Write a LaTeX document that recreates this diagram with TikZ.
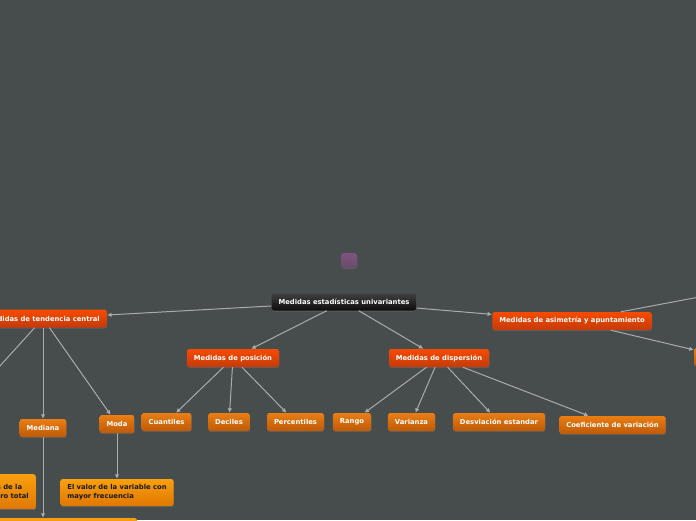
\documentclass[tikz,border=0pt]{standalone}
\usepackage{fontspec}
\setmainfont{DejaVu Sans}
\usetikzlibrary{arrows.meta}
\usetikzlibrary{shadows}

\definecolor{slatebg}{HTML}{474C4D}
\definecolor{linkgray}{HTML}{A9ACAD}
\definecolor{redtop}{HTML}{F64B00}
\definecolor{redbot}{HTML}{C43A0A}
\definecolor{orangetop}{HTML}{EA7E12}
\definecolor{orangebot}{HTML}{BE5A08}
\definecolor{ambertop}{HTML}{F9A00E}
\definecolor{amberbot}{HTML}{DF7800}

\begin{document}
\begin{tikzpicture}[
        x=1pt, y=-1pt,
        >={Latex[length=4.5pt,width=4.5pt]},
        every node/.style={font=\fontsize{6.8}{9}\selectfont\bfseries},
        box/.style={rounded corners=2.5pt, minimum height=18pt, inner xsep=7pt,
            drop shadow={shadow xshift=0.4pt, shadow yshift=-1pt, opacity=0.35}},
        rootbox/.style={box, top color=black!75, bottom color=black!95, text=white,
            minimum height=17pt},
        branch/.style={box, top color=redtop, bottom color=redbot, text=white},
        topic/.style={box, top color=orangetop, bottom color=orangebot, text=white},
        leaf/.style={box, top color=ambertop, bottom color=amberbot, text=black!90,
            align=left, inner xsep=7pt, minimum height=27pt},
        link/.style={draw=linkgray, line width=1pt, ->}
    ]

    \fill[slatebg] (0,0) rectangle (696,520);
    \useasboundingbox (0,0) rectangle (696,520);
    \clip (0,0) rectangle (696,520);

    % centre
    \node[rootbox] (root) at (344,302) {Medidas estadísticas univariantes};
    \node[box, top color=violet!35!gray, bottom color=violet!30!black!70,
        minimum width=16pt, minimum height=15pt, inner sep=0pt,
        rounded corners=3pt] (tag) at (349,260.5) {};

    % branches
    \node[branch] (tendencia) at (43,318.5) {Medidas de tendencia central};
    \node[branch] (posicion) at (233,358) {Medidas de posición};
    \node[branch] (dispersion) at (439,358) {Medidas de dispersión};
    \node[branch] (asimetria) at (572,321) {Medidas de asimetría y apuntamiento};

    % topics
    \node[topic] (mediana) at (43,428) {Mediana};
    \node[topic] (moda) at (117,424) {Moda};
    \node[topic] (cuantiles) at (166.5,422) {Cuantiles};
    \node[topic] (deciles) at (229,422) {Deciles};
    \node[topic] (percentiles) at (295.5,422) {Percentiles};
    \node[topic] (rango) at (352,422) {Rango};
    \node[topic] (varianza) at (411.5,422) {Varianza};
    \node[topic] (desviacion) at (499,422) {Desviación estandar};
    \node[topic] (coeficiente) at (612.5,425) {Coeficiente de variación};
    \node[topic, minimum width=60pt] (sesgo) at (724,357) {};

    % leaves
    \node[leaf, anchor=north east, minimum height=35pt] (mediadef) at (36,474)
        {Suma de todos los valores de la\\serie dividida por el número total};
    \node[leaf] (modadef) at (117,492.5)
        {El valor de la variable con\\mayor frecuencia};
    \node[leaf, minimum width=188pt, minimum height=30pt] (medianadef) at (43,533) {};

    % off-page ends
    \coordinate (media) at (-40,410);
    \coordinate (curtosis) at (800,278);

    \draw[link] (root) -- (tendencia);
    \draw[link] (root) -- (posicion);
    \draw[link] (root) -- (dispersion);
    \draw[link] (root) -- (asimetria);

    \draw[link] (tendencia) -- (media);
    \draw[link] (tendencia) -- (mediana);
    \draw[link] (tendencia) -- (moda);
    \draw[link] (mediana) -- (medianadef);
    \draw[link] (moda) -- (modadef);

    \draw[link] (posicion) -- (cuantiles);
    \draw[link] (posicion) -- (deciles);
    \draw[link] (posicion) -- (percentiles);

    \draw[link] (dispersion) -- (rango);
    \draw[link] (dispersion) -- (varianza);
    \draw[link] (dispersion) -- (desviacion);
    \draw[link] (dispersion) -- (coeficiente);

    \draw[link] (asimetria) -- (sesgo);
    \draw[link] (asimetria) -- (curtosis);

    \end{tikzpicture}
\end{document}
